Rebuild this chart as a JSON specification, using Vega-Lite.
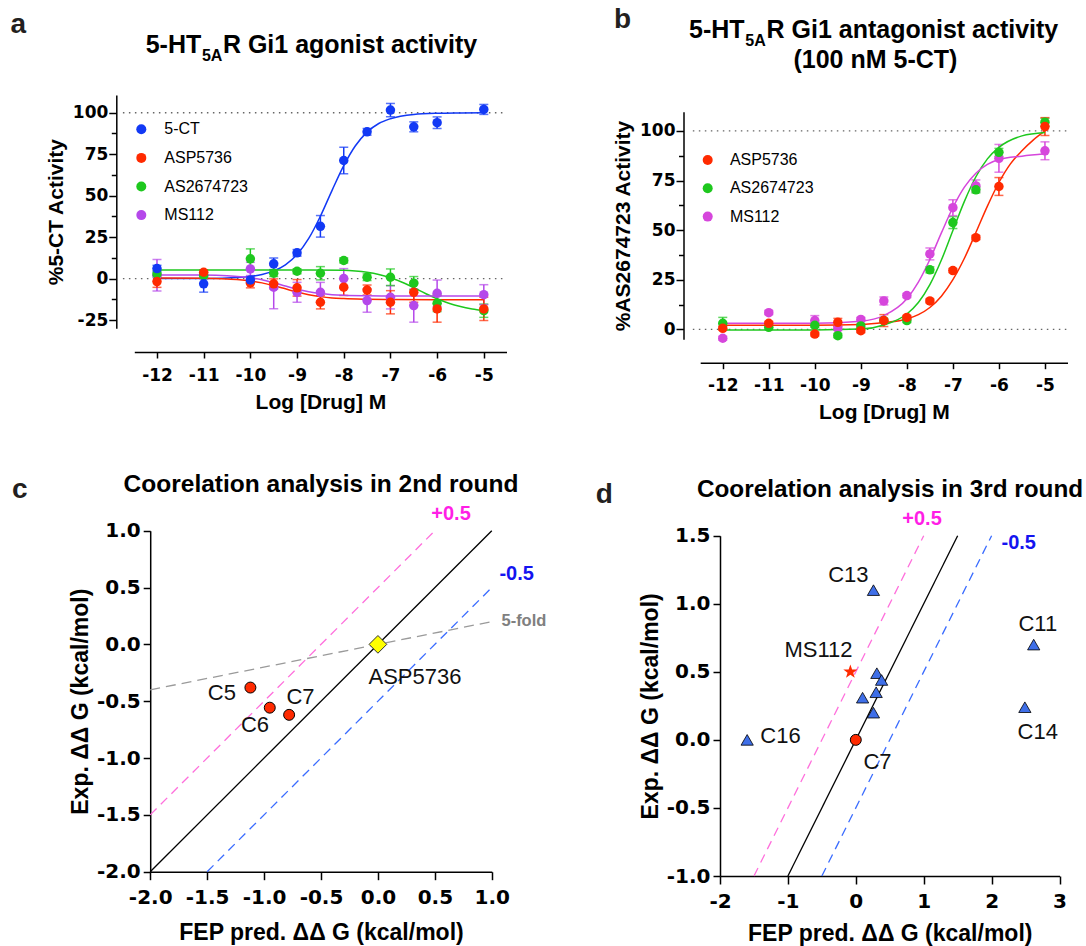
{
"$schema": "https://vega.github.io/schema/vega-lite/v6.json",
"width": 1086, "height": 946,
"autosize": {"type": "none"},
"padding": 0,
"config": {
  "font": "Liberation Sans",
  "view": {"stroke": null},
  "axis": {"grid": false, "domainColor": "#000", "domainWidth": 1.5, "tickColor": "#000", "tickWidth": 1.5, "labelColor": "#000", "labelFont": "DejaVu Sans", "labelFontWeight": "bold", "titleFont": "Liberation Sans", "titleFontWeight": "bold", "titleColor": "#000", "labelOverlap": false, "labelFlush": false, "labelBound": false},
  "legend": {"labelFont": "Liberation Sans", "labelColor": "#000"}
},
"datasets": {
  "a_pts": [
    {"s":"MS112","x":-12,"y":2,"lo":-7.5,"hi":11.5},{"s":"MS112","x":-11,"y":1.8,"lo":-0.2,"hi":3.8},{"s":"MS112","x":-10,"y":5.8,"lo":1.8,"hi":9.8},{"s":"MS112","x":-9.5,"y":-5.2,"lo":-18.2,"hi":7.8},{"s":"MS112","x":-9,"y":-8.3,"lo":-14.3,"hi":-2.3},{"s":"MS112","x":-8.5,"y":-8.3,"lo":-14.3,"hi":-2.3},{"s":"MS112","x":-8,"y":0,"lo":-6,"hi":6},{"s":"MS112","x":-7.5,"y":-13.3,"lo":-20.3,"hi":-6.3},{"s":"MS112","x":-7,"y":-11.3,"lo":-18.3,"hi":-4.3},{"s":"MS112","x":-6.5,"y":-16.3,"lo":-26.3,"hi":-6.3},{"s":"MS112","x":-6,"y":-8.9,"lo":-16.9,"hi":-0.9},{"s":"MS112","x":-5,"y":-9.7,"lo":-15.7,"hi":-3.7},
    {"s":"AS2674723","x":-12,"y":2.8,"lo":0.8,"hi":4.8},{"s":"AS2674723","x":-11,"y":1.8,"lo":0.3,"hi":3.3},{"s":"AS2674723","x":-10,"y":11.9,"lo":5.9,"hi":17.9},{"s":"AS2674723","x":-9.5,"y":3.2,"lo":1.2,"hi":5.2},{"s":"AS2674723","x":-9,"y":4.4,"lo":2.9,"hi":5.9},{"s":"AS2674723","x":-8.5,"y":3.2,"lo":-0.8,"hi":7.2},{"s":"AS2674723","x":-8,"y":10.9,"lo":9.4,"hi":12.4},{"s":"AS2674723","x":-7.5,"y":0.8,"lo":-1.2,"hi":2.8},{"s":"AS2674723","x":-7,"y":0.8,"lo":-4.2,"hi":5.8},{"s":"AS2674723","x":-6.5,"y":-2.8,"lo":-6.8,"hi":1.2},{"s":"AS2674723","x":-6,"y":-14.9,"lo":-19.9,"hi":-9.9},{"s":"AS2674723","x":-5,"y":-19.4,"lo":-23.4,"hi":-15.4},
    {"s":"ASP5736","x":-12,"y":-1.8,"lo":-5.3,"hi":1.7},{"s":"ASP5736","x":-11,"y":3.8,"lo":2.3,"hi":5.3},{"s":"ASP5736","x":-10,"y":-2.6,"lo":-5.6,"hi":0.4},{"s":"ASP5736","x":-9.5,"y":-3.2,"lo":-6.2,"hi":-0.2},{"s":"ASP5736","x":-9,"y":-5.6,"lo":-10.6,"hi":-0.6},{"s":"ASP5736","x":-8.5,"y":-14.3,"lo":-18.3,"hi":-10.3},{"s":"ASP5736","x":-8,"y":-5.2,"lo":-10.2,"hi":-0.2},{"s":"ASP5736","x":-7.5,"y":-6.9,"lo":-9.9,"hi":-3.9},{"s":"ASP5736","x":-7,"y":-14.3,"lo":-21.3,"hi":-7.3},{"s":"ASP5736","x":-6.5,"y":-8.3,"lo":-14.3,"hi":-2.3},{"s":"ASP5736","x":-6,"y":-18.3,"lo":-26.3,"hi":-10.3},{"s":"ASP5736","x":-5,"y":-18.3,"lo":-25.3,"hi":-11.3},
    {"s":"5-CT","x":-12,"y":6,"lo":4,"hi":8},{"s":"5-CT","x":-11,"y":-3.2,"lo":-8.2,"hi":1.8},{"s":"5-CT","x":-10,"y":-0.8,"lo":-2.8,"hi":1.2},{"s":"5-CT","x":-9.5,"y":8.9,"lo":5.4,"hi":12.4},{"s":"5-CT","x":-9,"y":15.5,"lo":13.5,"hi":17.5},{"s":"5-CT","x":-8.5,"y":31.5,"lo":25,"hi":38},{"s":"5-CT","x":-8,"y":71.2,"lo":63.2,"hi":79.2},{"s":"5-CT","x":-7.5,"y":88.5,"lo":86.5,"hi":90.5},{"s":"5-CT","x":-7,"y":101.6,"lo":97.6,"hi":105.6},{"s":"5-CT","x":-6.5,"y":91.5,"lo":88.5,"hi":94.5},{"s":"5-CT","x":-6,"y":94,"lo":90.5,"hi":97.5},{"s":"5-CT","x":-5,"y":102,"lo":99,"hi":105}
  ],
  "a_curve": [
    {"s":"5-CT","x":-12,"y":0},{"s":"5-CT","x":-11,"y":0.1},{"s":"5-CT","x":-10.5,"y":0.4},{"s":"5-CT","x":-10,"y":1.3},{"s":"5-CT","x":-9.75,"y":2.5},{"s":"5-CT","x":-9.5,"y":4.6},{"s":"5-CT","x":-9.25,"y":8.3},{"s":"5-CT","x":-9,"y":14.5},{"s":"5-CT","x":-8.75,"y":24.2},{"s":"5-CT","x":-8.5,"y":37.6},{"s":"5-CT","x":-8.25,"y":53.2},{"s":"5-CT","x":-8,"y":68.1},{"s":"5-CT","x":-7.75,"y":80.1},{"s":"5-CT","x":-7.5,"y":88.3},{"s":"5-CT","x":-7.25,"y":93.5},{"s":"5-CT","x":-7,"y":96.4},{"s":"5-CT","x":-6.5,"y":99},{"s":"5-CT","x":-6,"y":99.7},{"s":"5-CT","x":-5.5,"y":99.9},{"s":"5-CT","x":-5,"y":100},
    {"s":"ASP5736","x":-12,"y":0.3},{"s":"ASP5736","x":-11,"y":0.2},{"s":"ASP5736","x":-10.5,"y":-0.3},{"s":"ASP5736","x":-10,"y":-1.4},{"s":"ASP5736","x":-9.75,"y":-2.6},{"s":"ASP5736","x":-9.5,"y":-4.3},{"s":"ASP5736","x":-9.25,"y":-6.2},{"s":"ASP5736","x":-9,"y":-8.1},{"s":"ASP5736","x":-8.75,"y":-9.7},{"s":"ASP5736","x":-8.5,"y":-10.9},{"s":"ASP5736","x":-8.25,"y":-11.7},{"s":"ASP5736","x":-8,"y":-12.1},{"s":"ASP5736","x":-7.5,"y":-12.5},{"s":"ASP5736","x":-7,"y":-12.7},{"s":"ASP5736","x":-6,"y":-12.8},{"s":"ASP5736","x":-5,"y":-12.8},
    {"s":"AS2674723","x":-12,"y":5.2},{"s":"AS2674723","x":-9,"y":5.2},{"s":"AS2674723","x":-8,"y":5},{"s":"AS2674723","x":-7.75,"y":4.6},{"s":"AS2674723","x":-7.5,"y":3.8},{"s":"AS2674723","x":-7.25,"y":2.5},{"s":"AS2674723","x":-7,"y":0.5},{"s":"AS2674723","x":-6.75,"y":-2.2},{"s":"AS2674723","x":-6.5,"y":-5.5},{"s":"AS2674723","x":-6.25,"y":-9},{"s":"AS2674723","x":-6,"y":-12.2},{"s":"AS2674723","x":-5.75,"y":-14.9},{"s":"AS2674723","x":-5.5,"y":-16.9},{"s":"AS2674723","x":-5.25,"y":-18.3},{"s":"AS2674723","x":-5,"y":-19.3},
    {"s":"MS112","x":-12,"y":2.2},{"s":"MS112","x":-11,"y":2.1},{"s":"MS112","x":-10.5,"y":1.7},{"s":"MS112","x":-10,"y":0.5},{"s":"MS112","x":-9.75,"y":-0.7},{"s":"MS112","x":-9.5,"y":-2.5},{"s":"MS112","x":-9.25,"y":-4.5},{"s":"MS112","x":-9,"y":-6.4},{"s":"MS112","x":-8.75,"y":-7.9},{"s":"MS112","x":-8.5,"y":-9},{"s":"MS112","x":-8.25,"y":-9.7},{"s":"MS112","x":-8,"y":-10.1},{"s":"MS112","x":-7.5,"y":-10.4},{"s":"MS112","x":-7,"y":-10.5},{"s":"MS112","x":-5,"y":-10.5}
  ],
  "b_pts": [
    {"s":"MS112","x":-12,"y":-4.5,"lo":-5.5,"hi":-3.5},{"s":"MS112","x":-11,"y":8.4,"lo":7.4,"hi":9.4},{"s":"MS112","x":-10,"y":4.4,"lo":1.9,"hi":6.9},{"s":"MS112","x":-9.5,"y":0.5,"lo":-0.5,"hi":1.5},{"s":"MS112","x":-9,"y":5,"lo":4,"hi":6},{"s":"MS112","x":-8.5,"y":14.3,"lo":12.3,"hi":16.3},{"s":"MS112","x":-8,"y":17,"lo":16,"hi":18},{"s":"MS112","x":-7.5,"y":38,"lo":35,"hi":41},{"s":"MS112","x":-7,"y":61.3,"lo":57.3,"hi":65.3},{"s":"MS112","x":-6.5,"y":72.3,"lo":69.3,"hi":75.3},{"s":"MS112","x":-6,"y":86.2,"lo":79.2,"hi":93.2},{"s":"MS112","x":-5,"y":90,"lo":85.5,"hi":94.5},
    {"s":"AS2674723","x":-12,"y":3,"lo":0,"hi":6},{"s":"AS2674723","x":-11,"y":1,"lo":0,"hi":2},{"s":"AS2674723","x":-10,"y":2,"lo":1,"hi":3},{"s":"AS2674723","x":-9.5,"y":-3.2,"lo":-4.2,"hi":-2.2},{"s":"AS2674723","x":-9,"y":1.7,"lo":0.7,"hi":2.7},{"s":"AS2674723","x":-8.5,"y":4.4,"lo":3.4,"hi":5.4},{"s":"AS2674723","x":-8,"y":4.4,"lo":3.4,"hi":5.4},{"s":"AS2674723","x":-7.5,"y":30,"lo":28.5,"hi":31.5},{"s":"AS2674723","x":-7,"y":53.8,"lo":50.8,"hi":56.8},{"s":"AS2674723","x":-6.5,"y":70.3,"lo":68.8,"hi":71.8},{"s":"AS2674723","x":-6,"y":89.2,"lo":87.2,"hi":91.2},{"s":"AS2674723","x":-5,"y":104.4,"lo":102.4,"hi":106.4},
    {"s":"ASP5736","x":-12,"y":0.5,"lo":-0.5,"hi":1.5},{"s":"ASP5736","x":-11,"y":3,"lo":2,"hi":4},{"s":"ASP5736","x":-10,"y":-2.4,"lo":-3.4,"hi":-1.4},{"s":"ASP5736","x":-9.5,"y":3.5,"lo":1.5,"hi":5.5},{"s":"ASP5736","x":-9,"y":-0.7,"lo":-1.7,"hi":0.3},{"s":"ASP5736","x":-8.5,"y":4.4,"lo":1.4,"hi":7.4},{"s":"ASP5736","x":-8,"y":6,"lo":5,"hi":7},{"s":"ASP5736","x":-7.5,"y":14.3,"lo":13.3,"hi":15.3},{"s":"ASP5736","x":-7,"y":29.6,"lo":28.6,"hi":30.6},{"s":"ASP5736","x":-6.5,"y":46.2,"lo":45.2,"hi":47.2},{"s":"ASP5736","x":-6,"y":72,"lo":67.5,"hi":76.5},{"s":"ASP5736","x":-5,"y":102.2,"lo":97.7,"hi":106.7}
  ],
  "b_curve": [
    {"s":"ASP5736","x":-12,"y":2},{"s":"ASP5736","x":-10,"y":2},{"s":"ASP5736","x":-9,"y":2.4},{"s":"ASP5736","x":-8.5,"y":3.4},{"s":"ASP5736","x":-8,"y":5.2},{"s":"ASP5736","x":-7.75,"y":7.4},{"s":"ASP5736","x":-7.5,"y":11},{"s":"ASP5736","x":-7.25,"y":16.7},{"s":"ASP5736","x":-7,"y":25},{"s":"ASP5736","x":-6.75,"y":35.8},{"s":"ASP5736","x":-6.5,"y":48.8},{"s":"ASP5736","x":-6.25,"y":62.1},{"s":"ASP5736","x":-6,"y":74},{"s":"ASP5736","x":-5.75,"y":83.4},{"s":"ASP5736","x":-5.5,"y":90},{"s":"ASP5736","x":-5.25,"y":95.5},{"s":"ASP5736","x":-5,"y":100},
    {"s":"AS2674723","x":-12,"y":-0.3},{"s":"AS2674723","x":-10,"y":-0.3},{"s":"AS2674723","x":-9,"y":0.1},{"s":"AS2674723","x":-8.5,"y":2.2},{"s":"AS2674723","x":-8,"y":7.7},{"s":"AS2674723","x":-7.75,"y":13.5},{"s":"AS2674723","x":-7.5,"y":22.5},{"s":"AS2674723","x":-7.25,"y":34.9},{"s":"AS2674723","x":-7,"y":49.8},{"s":"AS2674723","x":-6.75,"y":64.5},{"s":"AS2674723","x":-6.5,"y":76.9},{"s":"AS2674723","x":-6.25,"y":85.9},{"s":"AS2674723","x":-6,"y":91.7},{"s":"AS2674723","x":-5.5,"y":97.5},{"s":"AS2674723","x":-5,"y":99.2},
    {"s":"MS112","x":-12,"y":3},{"s":"MS112","x":-10,"y":3.1},{"s":"MS112","x":-9,"y":4.1},{"s":"MS112","x":-8.5,"y":6.9},{"s":"MS112","x":-8,"y":15.4},{"s":"MS112","x":-7.75,"y":23.8},{"s":"MS112","x":-7.5,"y":35.2},{"s":"MS112","x":-7.25,"y":48.6},{"s":"MS112","x":-7,"y":61.4},{"s":"MS112","x":-6.75,"y":71.7},{"s":"MS112","x":-6.5,"y":78.7},{"s":"MS112","x":-6.25,"y":83.1},{"s":"MS112","x":-6,"y":85.6},{"s":"MS112","x":-5.5,"y":87.3},{"s":"MS112","x":-5,"y":88.5}
  ]
},
"resolve": {"scale": {"x": "independent", "y": "independent", "color": "independent"}, "axis": {"x": "independent", "y": "independent"}, "legend": {"color": "independent"}},
"layer": [
    {"data": {"values": [{"v": 0}, {"v": 100}]},
     "mark": {"type": "rule", "color": "#666666", "strokeWidth": 1.3, "strokeDash": [1.5, 4.5]},
     "encoding": {"x": {"datum": -12.73, "type": "quantitative", "scale": {"domain": [-12.486, -4.514], "range": [134.3, 506.5], "nice": false, "zero": false}, "axis": null}, "x2": {"datum": -4.514},
       "y": {"field": "v", "type": "quantitative", "scale": {"domain": [-30, 110.7], "range": [328.3, 95], "nice": false, "zero": false},
       "axis": {"orient": "left", "offset": -116.3, "values": [-12.5, 12.5, 37.5, 62.5, 87.5], "labels": false, "domain": false, "tickSize": 5, "title": null}}}},
    {"data": {"name": "a_pts"}, "mark": {"type": "rule", "strokeWidth": 1.5},
     "encoding": {"x": {"field": "x", "type": "quantitative", "scale": {"domain": [-12.486, -4.514], "range": [134.3, 506.5], "nice": false, "zero": false}, "axis": null},
       "y": {"field": "lo", "type": "quantitative", "scale": {"domain": [-30, 110.7], "range": [328.3, 95], "nice": false, "zero": false}, "axis": null}, "y2": {"field": "hi"},
       "color": {"field": "s", "type": "nominal", "scale": {"domain": ["5-CT", "ASP5736", "AS2674723", "MS112"], "range": ["#1239f5", "#ff2a00", "#1ec81e", "#b548ea"]}, "legend": null}}},
    {"data": {"name": "a_pts"}, "mark": {"type": "tick", "orient": "horizontal", "size": 9, "thickness": 1.5},
     "encoding": {"x": {"field": "x", "type": "quantitative", "scale": {"domain": [-12.486, -4.514], "range": [134.3, 506.5], "nice": false, "zero": false}, "axis": null},
       "y": {"field": "hi", "type": "quantitative", "scale": {"domain": [-30, 110.7], "range": [328.3, 95], "nice": false, "zero": false}, "axis": null},
       "color": {"field": "s", "type": "nominal", "scale": {"domain": ["5-CT", "ASP5736", "AS2674723", "MS112"], "range": ["#1239f5", "#ff2a00", "#1ec81e", "#b548ea"]}, "legend": null}}},
    {"data": {"name": "a_pts"}, "mark": {"type": "tick", "orient": "horizontal", "size": 9, "thickness": 1.5},
     "encoding": {"x": {"field": "x", "type": "quantitative", "scale": {"domain": [-12.486, -4.514], "range": [134.3, 506.5], "nice": false, "zero": false}, "axis": null},
       "y": {"field": "lo", "type": "quantitative", "scale": {"domain": [-30, 110.7], "range": [328.3, 95], "nice": false, "zero": false}, "axis": null},
       "color": {"field": "s", "type": "nominal", "scale": {"domain": ["5-CT", "ASP5736", "AS2674723", "MS112"], "range": ["#1239f5", "#ff2a00", "#1ec81e", "#b548ea"]}, "legend": null}}},
    {"data": {"name": "a_curve"}, "mark": {"type": "line", "interpolate": "monotone", "strokeWidth": 1.5},
     "encoding": {"x": {"field": "x", "type": "quantitative", "scale": {"domain": [-12.486, -4.514], "range": [134.3, 506.5], "nice": false, "zero": false}, "axis": null},
       "y": {"field": "y", "type": "quantitative", "scale": {"domain": [-30, 110.7], "range": [328.3, 95], "nice": false, "zero": false}, "axis": null},
       "color": {"field": "s", "type": "nominal", "scale": {"domain": ["5-CT", "ASP5736", "AS2674723", "MS112"], "range": ["#1239f5", "#ff2a00", "#1ec81e", "#b548ea"]}, "legend": null}}},
    {"data": {"name": "a_pts"}, "mark": {"type": "circle", "size": 90, "opacity": 1},
     "encoding": {"x": {"field": "x", "type": "quantitative", "scale": {"domain": [-12.486, -4.514], "range": [134.3, 506.5], "nice": false, "zero": false},
         "axis": {"orient": "bottom", "offset": -594, "values": [-12, -11, -10, -9, -8, -7, -6, -5], "format": "d", "tickSize": 6, "labelPadding": 9.4, "labelFontSize": 17, "title": "Log [Drug] M", "titleFontSize": 21, "titlePadding": 7.8, "labelExpr": "replace(datum.label, '−', '-')"}},
       "y": {"field": "y", "type": "quantitative", "scale": {"domain": [-30, 110.7], "range": [328.3, 95], "nice": false, "zero": false},
         "axis": {"orient": "left", "offset": -116.3, "values": [-25, 0, 25, 50, 75, 100], "tickSize": 7.5, "labelPadding": 1, "labelFontSize": 17, "title": "%5-CT Activity", "titleFontSize": 21, "titlePadding": 5.5, "labelExpr": "replace(datum.label, '−', '-')"}},
       "color": {"field": "s", "type": "nominal", "scale": {"domain": ["5-CT", "ASP5736", "AS2674723", "MS112"], "range": ["#1239f5", "#ff2a00", "#1ec81e", "#b548ea"]},
         "legend": {"orient": "none", "legendX": 133.3, "legendY": 121.3, "title": null, "symbolType": "circle", "symbolSize": 100, "labelOffset": 15, "rowPadding": 12.6, "labelFontSize": 16, "padding": 0}}}},
    {"data": {"values": [{"t": "a", "x": -15.139, "y": 147.9}]}, "mark": {"type": "text", "fontSize": 28, "fontWeight": "bold", "align": "left", "baseline": "alphabetic", "color": "#231f20"},
     "encoding": {"x": {"field": "x", "type": "quantitative", "scale": {"domain": [-12.486, -4.514], "range": [134.3, 506.5], "nice": false, "zero": false}, "axis": null}, "y": {"field": "y", "type": "quantitative", "scale": {"domain": [-30, 110.7], "range": [328.3, 95], "nice": false, "zero": false}, "axis": null}, "text": {"field": "t"}}},
    {"data": {"values": [{"t": "5-HT", "x": -11.052, "y": 135.84}]}, "mark": {"type": "text", "fontSize": 25, "fontWeight": "bold", "align": "right", "baseline": "alphabetic", "color": "#000"},
     "encoding": {"x": {"field": "x", "type": "quantitative", "scale": {"domain": [-12.486, -4.514], "range": [134.3, 506.5], "nice": false, "zero": false}, "axis": null}, "y": {"field": "y", "type": "quantitative", "scale": {"domain": [-30, 110.7], "range": [328.3, 95], "nice": false, "zero": false}, "axis": null}, "text": {"field": "t"}}},
    {"data": {"values": [{"t": "5A", "x": -11.037, "y": 131.0}]}, "mark": {"type": "text", "fontSize": 16, "fontWeight": "bold", "align": "left", "baseline": "alphabetic", "color": "#000"},
     "encoding": {"x": {"field": "x", "type": "quantitative", "scale": {"domain": [-12.486, -4.514], "range": [134.3, 506.5], "nice": false, "zero": false}, "axis": null}, "y": {"field": "y", "type": "quantitative", "scale": {"domain": [-30, 110.7], "range": [328.3, 95], "nice": false, "zero": false}, "axis": null}, "text": {"field": "t"}}},
    {"data": {"values": [{"t": "R Gi1 agonist activity", "x": -10.588, "y": 135.84}]}, "mark": {"type": "text", "fontSize": 25, "fontWeight": "bold", "align": "left", "baseline": "alphabetic", "color": "#000"},
     "encoding": {"x": {"field": "x", "type": "quantitative", "scale": {"domain": [-12.486, -4.514], "range": [134.3, 506.5], "nice": false, "zero": false}, "axis": null}, "y": {"field": "y", "type": "quantitative", "scale": {"domain": [-30, 110.7], "range": [328.3, 95], "nice": false, "zero": false}, "axis": null}, "text": {"field": "t"}}},

    {"data": {"values": [{"v": 0}, {"v": 100}]},
     "mark": {"type": "rule", "color": "#666666", "strokeWidth": 1.3, "strokeDash": [1.5, 4.5]},
     "encoding": {"x": {"datum": -12.65, "type": "quantitative", "scale": {"domain": [-12.49, -4.51], "range": [700.2, 1067.5], "nice": false, "zero": false}, "axis": null}, "x2": {"datum": -4.51},
       "y": {"field": "v", "type": "quantitative", "scale": {"domain": [-5.04, 109.7], "range": [339.3, 111.7], "nice": false, "zero": false},
       "axis": {"orient": "left", "offset": -683.5, "values": [12.5, 37.5, 62.5, 87.5], "labels": false, "domain": false, "tickSize": 5, "title": null}}}},
    {"data": {"name": "b_pts"}, "mark": {"type": "rule", "strokeWidth": 1.5},
     "encoding": {"x": {"field": "x", "type": "quantitative", "scale": {"domain": [-12.49, -4.51], "range": [700.2, 1067.5], "nice": false, "zero": false}, "axis": null},
       "y": {"field": "lo", "type": "quantitative", "scale": {"domain": [-5.04, 109.7], "range": [339.3, 111.7], "nice": false, "zero": false}, "axis": null}, "y2": {"field": "hi"},
       "color": {"field": "s", "type": "nominal", "scale": {"domain": ["ASP5736", "AS2674723", "MS112"], "range": ["#ff2a00", "#1ec81e", "#d646dc"]}, "legend": null}}},
    {"data": {"name": "b_pts"}, "mark": {"type": "tick", "orient": "horizontal", "size": 9, "thickness": 1.5},
     "encoding": {"x": {"field": "x", "type": "quantitative", "scale": {"domain": [-12.49, -4.51], "range": [700.2, 1067.5], "nice": false, "zero": false}, "axis": null},
       "y": {"field": "hi", "type": "quantitative", "scale": {"domain": [-5.04, 109.7], "range": [339.3, 111.7], "nice": false, "zero": false}, "axis": null},
       "color": {"field": "s", "type": "nominal", "scale": {"domain": ["ASP5736", "AS2674723", "MS112"], "range": ["#ff2a00", "#1ec81e", "#d646dc"]}, "legend": null}}},
    {"data": {"name": "b_pts"}, "mark": {"type": "tick", "orient": "horizontal", "size": 9, "thickness": 1.5},
     "encoding": {"x": {"field": "x", "type": "quantitative", "scale": {"domain": [-12.49, -4.51], "range": [700.2, 1067.5], "nice": false, "zero": false}, "axis": null},
       "y": {"field": "lo", "type": "quantitative", "scale": {"domain": [-5.04, 109.7], "range": [339.3, 111.7], "nice": false, "zero": false}, "axis": null},
       "color": {"field": "s", "type": "nominal", "scale": {"domain": ["ASP5736", "AS2674723", "MS112"], "range": ["#ff2a00", "#1ec81e", "#d646dc"]}, "legend": null}}},
    {"data": {"name": "b_curve"}, "mark": {"type": "line", "interpolate": "monotone", "strokeWidth": 1.5},
     "encoding": {"x": {"field": "x", "type": "quantitative", "scale": {"domain": [-12.49, -4.51], "range": [700.2, 1067.5], "nice": false, "zero": false}, "axis": null},
       "y": {"field": "y", "type": "quantitative", "scale": {"domain": [-5.04, 109.7], "range": [339.3, 111.7], "nice": false, "zero": false}, "axis": null},
       "color": {"field": "s", "type": "nominal", "scale": {"domain": ["ASP5736", "AS2674723", "MS112"], "range": ["#ff2a00", "#1ec81e", "#d646dc"]}, "legend": null}}},
    {"data": {"name": "b_pts"}, "mark": {"type": "circle", "size": 90, "opacity": 1},
     "encoding": {"x": {"field": "x", "type": "quantitative", "scale": {"domain": [-12.49, -4.51], "range": [700.2, 1067.5], "nice": false, "zero": false},
         "axis": {"orient": "bottom", "offset": -583.3, "values": [-12, -11, -10, -9, -8, -7, -6, -5], "format": "d", "tickSize": 6, "labelPadding": 9.2, "labelFontSize": 17, "title": "Log [Drug] M", "titleFontSize": 21, "titlePadding": 7.8, "labelExpr": "replace(datum.label, '−', '-')"}},
       "y": {"field": "y", "type": "quantitative", "scale": {"domain": [-5.04, 109.7], "range": [339.3, 111.7], "nice": false, "zero": false},
         "axis": {"orient": "left", "offset": -683.5, "values": [0, 25, 50, 75, 100], "tickSize": 7.5, "labelPadding": 1, "labelFontSize": 17, "title": "%AS2674723 Activity", "titleFontSize": 21, "titlePadding": 6}},
       "color": {"field": "s", "type": "nominal", "scale": {"domain": ["ASP5736", "AS2674723", "MS112"], "range": ["#ff2a00", "#1ec81e", "#d646dc"]},
         "legend": {"orient": "none", "legendX": 699.7, "legendY": 152, "title": null, "symbolType": "circle", "symbolSize": 100, "labelOffset": 14.2, "rowPadding": 12.3, "labelFontSize": 16, "padding": 0}}}},
    {"data": {"values": [{"t": "b", "x": -14.364, "y": 151.76}]}, "mark": {"type": "text", "fontSize": 28, "fontWeight": "bold", "align": "left", "baseline": "alphabetic", "color": "#231f20"},
     "encoding": {"x": {"field": "x", "type": "quantitative", "scale": {"domain": [-12.49, -4.51], "range": [700.2, 1067.5], "nice": false, "zero": false}, "axis": null}, "y": {"field": "y", "type": "quantitative", "scale": {"domain": [-5.04, 109.7], "range": [339.3, 111.7], "nice": false, "zero": false}, "axis": null}, "text": {"field": "t"}}},
    {"data": {"values": [{"t": "5-HT", "x": -11.525, "y": 146.71}]}, "mark": {"type": "text", "fontSize": 25, "fontWeight": "bold", "align": "right", "baseline": "alphabetic", "color": "#000"},
     "encoding": {"x": {"field": "x", "type": "quantitative", "scale": {"domain": [-12.49, -4.51], "range": [700.2, 1067.5], "nice": false, "zero": false}, "axis": null}, "y": {"field": "y", "type": "quantitative", "scale": {"domain": [-5.04, 109.7], "range": [339.3, 111.7], "nice": false, "zero": false}, "axis": null}, "text": {"field": "t"}}},
    {"data": {"values": [{"t": "5A", "x": -11.51, "y": 142.68}]}, "mark": {"type": "text", "fontSize": 16, "fontWeight": "bold", "align": "left", "baseline": "alphabetic", "color": "#000"},
     "encoding": {"x": {"field": "x", "type": "quantitative", "scale": {"domain": [-12.49, -4.51], "range": [700.2, 1067.5], "nice": false, "zero": false}, "axis": null}, "y": {"field": "y", "type": "quantitative", "scale": {"domain": [-5.04, 109.7], "range": [339.3, 111.7], "nice": false, "zero": false}, "axis": null}, "text": {"field": "t"}}},
    {"data": {"values": [{"t": "R Gi1 antagonist activity", "x": -11.049, "y": 146.71}]}, "mark": {"type": "text", "fontSize": 25, "fontWeight": "bold", "align": "left", "baseline": "alphabetic", "color": "#000"},
     "encoding": {"x": {"field": "x", "type": "quantitative", "scale": {"domain": [-12.49, -4.51], "range": [700.2, 1067.5], "nice": false, "zero": false}, "axis": null}, "y": {"field": "y", "type": "quantitative", "scale": {"domain": [-5.04, 109.7], "range": [339.3, 111.7], "nice": false, "zero": false}, "axis": null}, "text": {"field": "t"}}},
    {"data": {"values": [{"t": "(100 nM 5-CT)", "x": -8.683, "y": 131.59}]}, "mark": {"type": "text", "fontSize": 25, "fontWeight": "bold", "align": "center", "baseline": "alphabetic", "color": "#000"},
     "encoding": {"x": {"field": "x", "type": "quantitative", "scale": {"domain": [-12.49, -4.51], "range": [700.2, 1067.5], "nice": false, "zero": false}, "axis": null}, "y": {"field": "y", "type": "quantitative", "scale": {"domain": [-5.04, 109.7], "range": [339.3, 111.7], "nice": false, "zero": false}, "axis": null}, "text": {"field": "t"}}},

    {"data": {"values": [{"x":-2,"y":-2},{"x":1,"y":1}]},
     "mark": {"type": "line", "strokeWidth": 1.3, "color": "#000000"},
     "encoding": {"x": {"field": "x", "type": "quantitative", "scale": {"domain": [-2, 1], "range": [150.2, 491.8], "nice": false, "zero": false},
         "axis": {"orient": "bottom", "offset": -74.3, "values": [-2, -1.5, -1, -0.5, 0, 0.5, 1], "format": ".1f", "tickSize": 8, "labelPadding": 8, "labelFontSize": 20, "title": "FEP pred. ΔΔ G (kcal/mol)", "titleFontSize": 23, "titlePadding": 13.5, "labelExpr": "replace(datum.label, '−', '-')"}},
       "y": {"field": "y", "type": "quantitative", "scale": {"domain": [-2, 1], "range": [871.7, 530.7], "nice": false, "zero": false},
         "axis": {"orient": "left", "offset": -150.2, "values": [-2, -1.5, -1, -0.5, 0, 0.5, 1], "format": ".1f", "tickSize": 7, "labelPadding": 3, "labelFontSize": 20, "title": "Exp. ΔΔ G (kcal/mol)", "titleFontSize": 23, "titlePadding": 4.3, "labelExpr": "replace(datum.label, '−', '-')"}}}},
    {"data": {"values": [{"x":-2,"y":-1.5},{"x":0.5,"y":1}]},
     "mark": {"type": "line", "strokeWidth": 1.3, "color": "#ff6fdc", "strokeDash": [9, 6]},
     "encoding": {"x": {"field": "x", "type": "quantitative", "scale": {"domain": [-2, 1], "range": [150.2, 491.8], "nice": false, "zero": false}, "axis": null}, "y": {"field": "y", "type": "quantitative", "scale": {"domain": [-2, 1], "range": [871.7, 530.7], "nice": false, "zero": false}, "axis": null}}},
    {"data": {"values": [{"x":-1.5,"y":-2},{"x":1,"y":0.5}]},
     "mark": {"type": "line", "strokeWidth": 1.3, "color": "#3a6cff", "strokeDash": [9, 6]},
     "encoding": {"x": {"field": "x", "type": "quantitative", "scale": {"domain": [-2, 1], "range": [150.2, 491.8], "nice": false, "zero": false}, "axis": null}, "y": {"field": "y", "type": "quantitative", "scale": {"domain": [-2, 1], "range": [871.7, 530.7], "nice": false, "zero": false}, "axis": null}}},
    {"data": {"values": [{"x":-2,"y":-0.4},{"x":1.03,"y":0.206}]},
     "mark": {"type": "line", "strokeWidth": 1.3, "color": "#9a9a9a", "strokeDash": [10, 6]},
     "encoding": {"x": {"field": "x", "type": "quantitative", "scale": {"domain": [-2, 1], "range": [150.2, 491.8], "nice": false, "zero": false}, "axis": null}, "y": {"field": "y", "type": "quantitative", "scale": {"domain": [-2, 1], "range": [871.7, 530.7], "nice": false, "zero": false}, "axis": null}}},
    {"data": {"values": [{"n":"C5","x":-1.12,"y":-0.38},{"n":"C6","x":-0.95,"y":-0.557},{"n":"C7","x":-0.78,"y":-0.62}]},
     "mark": {"type": "point", "shape": "circle", "filled": true, "fill": "#ff2a00", "stroke": "#000", "strokeWidth": 1, "size": 120, "opacity": 1},
     "encoding": {"x": {"field": "x", "type": "quantitative", "scale": {"domain": [-2, 1], "range": [150.2, 491.8], "nice": false, "zero": false}, "axis": null}, "y": {"field": "y", "type": "quantitative", "scale": {"domain": [-2, 1], "range": [871.7, 530.7], "nice": false, "zero": false}, "axis": null}}},
    {"data": {"values": [{"n":"ASP5736","x":0,"y":0}]},
     "mark": {"type": "point", "shape": "diamond", "filled": true, "fill": "#ffff00", "stroke": "#333", "strokeWidth": 1, "size": 313, "opacity": 1},
     "encoding": {"x": {"field": "x", "type": "quantitative", "scale": {"domain": [-2, 1], "range": [150.2, 491.8], "nice": false, "zero": false}, "axis": null}, "y": {"field": "y", "type": "quantitative", "scale": {"domain": [-2, 1], "range": [871.7, 530.7], "nice": false, "zero": false}, "axis": null}}},
    {"data": {"values": [{"t":"C5","x":-1.37,"y":-0.43},{"t":"C6","x":-1.08,"y":-0.71},{"t":"C7","x":-0.68,"y":-0.46},{"t":"ASP5736","x":0.325,"y":-0.284}]},
     "mark": {"type": "text", "fontSize": 22, "align": "center", "baseline": "middle", "color": "#111"},
     "encoding": {"x": {"field": "x", "type": "quantitative", "scale": {"domain": [-2, 1], "range": [150.2, 491.8], "nice": false, "zero": false}, "axis": null}, "y": {"field": "y", "type": "quantitative", "scale": {"domain": [-2, 1], "range": [871.7, 530.7], "nice": false, "zero": false}, "axis": null}, "text": {"field": "t"}}},
    {"data": {"values": [{"t":"+0.5","x":0.642,"y":1.144}]},
     "mark": {"type": "text", "fontSize": 20, "fontWeight": "bold", "align": "center", "baseline": "middle", "color": "#ff1ee6"},
     "encoding": {"x": {"field": "x", "type": "quantitative", "scale": {"domain": [-2, 1], "range": [150.2, 491.8], "nice": false, "zero": false}, "axis": null}, "y": {"field": "y", "type": "quantitative", "scale": {"domain": [-2, 1], "range": [871.7, 530.7], "nice": false, "zero": false}, "axis": null}, "text": {"field": "t"}}},
    {"data": {"values": [{"t":"-0.5","x":1.218,"y":0.619}]},
     "mark": {"type": "text", "fontSize": 20, "fontWeight": "bold", "align": "center", "baseline": "middle", "color": "#1414f0"},
     "encoding": {"x": {"field": "x", "type": "quantitative", "scale": {"domain": [-2, 1], "range": [150.2, 491.8], "nice": false, "zero": false}, "axis": null}, "y": {"field": "y", "type": "quantitative", "scale": {"domain": [-2, 1], "range": [871.7, 530.7], "nice": false, "zero": false}, "axis": null}, "text": {"field": "t"}}},
    {"data": {"values": [{"t":"5-fold","x":1.282,"y":0.208}]},
     "mark": {"type": "text", "fontSize": 16.5, "fontWeight": "bold", "align": "center", "baseline": "middle", "color": "#808080"},
     "encoding": {"x": {"field": "x", "type": "quantitative", "scale": {"domain": [-2, 1], "range": [150.2, 491.8], "nice": false, "zero": false}, "axis": null}, "y": {"field": "y", "type": "quantitative", "scale": {"domain": [-2, 1], "range": [871.7, 530.7], "nice": false, "zero": false}, "axis": null}, "text": {"field": "t"}}},
    {"data": {"values": [{"t":"Coorelation analysis in 2nd round","x":-0.5,"y":1.343}]},
     "mark": {"type": "text", "fontSize": 24.5, "fontWeight": "bold", "align": "center", "baseline": "alphabetic", "color": "#000"},
     "encoding": {"x": {"field": "x", "type": "quantitative", "scale": {"domain": [-2, 1], "range": [150.2, 491.8], "nice": false, "zero": false}, "axis": null}, "y": {"field": "y", "type": "quantitative", "scale": {"domain": [-2, 1], "range": [871.7, 530.7], "nice": false, "zero": false}, "axis": null}, "text": {"field": "t"}}},
    {"data": {"values": [{"t":"c","x":-3.213,"y":1.285}]},
     "mark": {"type": "text", "fontSize": 28, "fontWeight": "bold", "align": "left", "baseline": "alphabetic", "color": "#231f20"},
     "encoding": {"x": {"field": "x", "type": "quantitative", "scale": {"domain": [-2, 1], "range": [150.2, 491.8], "nice": false, "zero": false}, "axis": null}, "y": {"field": "y", "type": "quantitative", "scale": {"domain": [-2, 1], "range": [871.7, 530.7], "nice": false, "zero": false}, "axis": null}, "text": {"field": "t"}}},

    {"data": {"values": [{"x":-1,"y":-1},{"x":1.5,"y":1.5}]},
     "mark": {"type": "line", "strokeWidth": 1.3, "color": "#000000"},
     "encoding": {"x": {"field": "x", "type": "quantitative", "scale": {"domain": [-2, 3], "range": [720, 1059.5], "nice": false, "zero": false},
         "axis": {"orient": "bottom", "offset": -70, "values": [-2, -1, 0, 1, 2, 3], "format": "d", "tickSize": 8, "labelPadding": 7, "labelFontSize": 20, "title": "FEP pred. ΔΔ G (kcal/mol)", "titleFontSize": 23, "titlePadding": 11.4, "labelExpr": "replace(datum.label, '−', '-')"}},
       "y": {"field": "y", "type": "quantitative", "scale": {"domain": [-1, 1.5], "range": [876, 535.7], "nice": false, "zero": false},
         "axis": {"orient": "left", "offset": -720, "values": [-1, -0.5, 0, 0.5, 1, 1.5], "format": ".1f", "tickSize": 7, "labelPadding": 3, "labelFontSize": 20, "title": "Exp. ΔΔ G (kcal/mol)", "titleFontSize": 23, "titlePadding": 3.6, "labelExpr": "replace(datum.label, '−', '-')"}}}},
    {"data": {"values": [{"x":-1.5,"y":-1},{"x":1,"y":1.5}]},
     "mark": {"type": "line", "strokeWidth": 1.3, "color": "#ff6fdc", "strokeDash": [9, 6]},
     "encoding": {"x": {"field": "x", "type": "quantitative", "scale": {"domain": [-2, 3], "range": [720, 1059.5], "nice": false, "zero": false}, "axis": null}, "y": {"field": "y", "type": "quantitative", "scale": {"domain": [-1, 1.5], "range": [876, 535.7], "nice": false, "zero": false}, "axis": null}}},
    {"data": {"values": [{"x":-0.5,"y":-1},{"x":2,"y":1.5}]},
     "mark": {"type": "line", "strokeWidth": 1.3, "color": "#3a6cff", "strokeDash": [9, 6]},
     "encoding": {"x": {"field": "x", "type": "quantitative", "scale": {"domain": [-2, 3], "range": [720, 1059.5], "nice": false, "zero": false}, "axis": null}, "y": {"field": "y", "type": "quantitative", "scale": {"domain": [-1, 1.5], "range": [876, 535.7], "nice": false, "zero": false}, "axis": null}}},
    {"data": {"values": [{"n":"C13","x":0.26,"y":1.1},{"n":"C11","x":2.62,"y":0.7},{"n":"C14","x":2.49,"y":0.24},{"n":"C16","x":-1.6,"y":0.0},{"n":"t1","x":0.31,"y":0.49},{"n":"t2","x":0.38,"y":0.44},{"n":"t3","x":0.3,"y":0.35},{"n":"t4","x":0.1,"y":0.31},{"n":"t5","x":0.26,"y":0.2}]},
     "mark": {"type": "point", "shape": "triangle-up", "filled": true, "fill": "#3f6fe8", "stroke": "#000", "strokeWidth": 0.8, "size": 150, "opacity": 1},
     "encoding": {"x": {"field": "x", "type": "quantitative", "scale": {"domain": [-2, 3], "range": [720, 1059.5], "nice": false, "zero": false}, "axis": null}, "y": {"field": "y", "type": "quantitative", "scale": {"domain": [-1, 1.5], "range": [876, 535.7], "nice": false, "zero": false}, "axis": null}}},
    {"data": {"values": [{"n":"MS112","x":-0.08,"y":0.5}]},
     "mark": {"type": "point", "shape": "M0,-1L0.235,-0.324L0.951,-0.309L0.38,0.124L0.588,0.809L0,0.4L-0.588,0.809L-0.38,0.124L-0.951,-0.309L-0.235,-0.324Z", "filled": true, "fill": "#ff2a00", "size": 220, "opacity": 1},
     "encoding": {"x": {"field": "x", "type": "quantitative", "scale": {"domain": [-2, 3], "range": [720, 1059.5], "nice": false, "zero": false}, "axis": null}, "y": {"field": "y", "type": "quantitative", "scale": {"domain": [-1, 1.5], "range": [876, 535.7], "nice": false, "zero": false}, "axis": null}}},
    {"data": {"values": [{"n":"C7","x":0,"y":0}]},
     "mark": {"type": "point", "shape": "circle", "filled": true, "fill": "#ff2a00", "stroke": "#000", "strokeWidth": 1, "size": 120, "opacity": 1},
     "encoding": {"x": {"field": "x", "type": "quantitative", "scale": {"domain": [-2, 3], "range": [720, 1059.5], "nice": false, "zero": false}, "axis": null}, "y": {"field": "y", "type": "quantitative", "scale": {"domain": [-1, 1.5], "range": [876, 535.7], "nice": false, "zero": false}, "axis": null}}},
    {"data": {"values": [{"t":"C13","x":-0.11,"y":1.21},{"t":"C11","x":2.68,"y":0.85},{"t":"C14","x":2.68,"y":0.06},{"t":"C16","x":-1.11,"y":0.028},{"t":"MS112","x":-0.55,"y":0.66},{"t":"C7","x":0.32,"y":-0.16}]},
     "mark": {"type": "text", "fontSize": 22, "align": "center", "baseline": "middle", "color": "#111"},
     "encoding": {"x": {"field": "x", "type": "quantitative", "scale": {"domain": [-2, 3], "range": [720, 1059.5], "nice": false, "zero": false}, "axis": null}, "y": {"field": "y", "type": "quantitative", "scale": {"domain": [-1, 1.5], "range": [876, 535.7], "nice": false, "zero": false}, "axis": null}, "text": {"field": "t"}}},
    {"data": {"values": [{"t":"+0.5","x":0.975,"y":1.62}]},
     "mark": {"type": "text", "fontSize": 20, "fontWeight": "bold", "align": "center", "baseline": "middle", "color": "#ff1ee6"},
     "encoding": {"x": {"field": "x", "type": "quantitative", "scale": {"domain": [-2, 3], "range": [720, 1059.5], "nice": false, "zero": false}, "axis": null}, "y": {"field": "y", "type": "quantitative", "scale": {"domain": [-1, 1.5], "range": [876, 535.7], "nice": false, "zero": false}, "axis": null}, "text": {"field": "t"}}},
    {"data": {"values": [{"t":"-0.5","x":2.4,"y":1.45}]},
     "mark": {"type": "text", "fontSize": 20, "fontWeight": "bold", "align": "center", "baseline": "middle", "color": "#1414f0"},
     "encoding": {"x": {"field": "x", "type": "quantitative", "scale": {"domain": [-2, 3], "range": [720, 1059.5], "nice": false, "zero": false}, "axis": null}, "y": {"field": "y", "type": "quantitative", "scale": {"domain": [-1, 1.5], "range": [876, 535.7], "nice": false, "zero": false}, "axis": null}, "text": {"field": "t"}}},
    {"data": {"values": [{"t":"Coorelation analysis in 3rd round","x":0.504,"y":1.787}]},
     "mark": {"type": "text", "fontSize": 24.3, "fontWeight": "bold", "align": "center", "baseline": "alphabetic", "color": "#000"},
     "encoding": {"x": {"field": "x", "type": "quantitative", "scale": {"domain": [-2, 3], "range": [720, 1059.5], "nice": false, "zero": false}, "axis": null}, "y": {"field": "y", "type": "quantitative", "scale": {"domain": [-1, 1.5], "range": [876, 535.7], "nice": false, "zero": false}, "axis": null}, "text": {"field": "t"}}},
    {"data": {"values": [{"t":"d","x":-3.831,"y":1.738}]},
     "mark": {"type": "text", "fontSize": 28, "fontWeight": "bold", "align": "left", "baseline": "alphabetic", "color": "#231f20"},
     "encoding": {"x": {"field": "x", "type": "quantitative", "scale": {"domain": [-2, 3], "range": [720, 1059.5], "nice": false, "zero": false}, "axis": null}, "y": {"field": "y", "type": "quantitative", "scale": {"domain": [-1, 1.5], "range": [876, 535.7], "nice": false, "zero": false}, "axis": null}, "text": {"field": "t"}}}
]
}
